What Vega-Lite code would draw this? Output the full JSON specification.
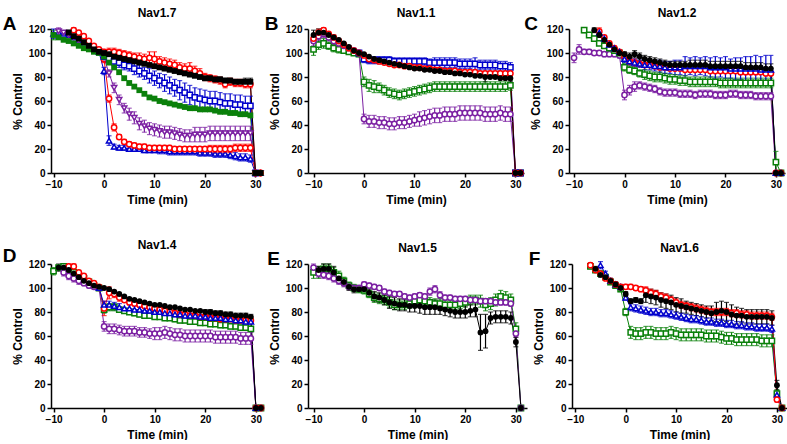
{
"$schema":"https://vega.github.io/schema/vega-lite/v6.json",
"background":"white",
"padding":{"left":2,"top":6,"right":0,"bottom":0},
"autosize":{"type":"pad"},
"config":{
"view":{"stroke":null},
"title":{"font":"Liberation Sans","fontSize":12,"fontWeight":"bold","color":"black","offset":-5},
"axis":{"grid":false,"domainColor":"black","domainWidth":1.5,"tickColor":"black","tickWidth":1.5,"tickSize":4,"labelFont":"Liberation Sans","labelFontSize":10,"labelFontWeight":"bold","labelColor":"black","labelPadding":2,"labelFlush":false,"titleFont":"Liberation Sans","titleFontSize":12,"titleFontWeight":"bold","titleColor":"black","titlePadding":3},
"axisX":{"titlePadding":5},
"axisY":{"titlePadding":4}
},
"datasets":{
"A":[
{"s":"bt","t":-10,"y":116,"e":4},{"s":"bt","t":-9,"y":117},{"s":"bt","t":-8,"y":116},{"s":"bt","t":-7,"y":115},{"s":"bt","t":-6,"y":113},{"s":"bt","t":-5,"y":110},{"s":"bt","t":-4,"y":108},{"s":"bt","t":-3,"y":106},{"s":"bt","t":-2,"y":104},{"s":"bt","t":-1,"y":101},{"s":"bt","t":0,"y":85,"e":3},{"s":"bt","t":1,"y":27,"e":4},{"s":"bt","t":2,"y":22,"e":2},{"s":"bt","t":3,"y":21,"e":2},{"s":"bt","t":4,"y":21,"e":2},{"s":"bt","t":5,"y":20,"e":2},{"s":"bt","t":6,"y":20,"e":2},{"s":"bt","t":7,"y":20,"e":2},{"s":"bt","t":8,"y":19,"e":2},{"s":"bt","t":9,"y":19,"e":2},{"s":"bt","t":10,"y":19,"e":2},{"s":"bt","t":11,"y":19,"e":3},{"s":"bt","t":12,"y":19,"e":3},{"s":"bt","t":13,"y":18,"e":3},{"s":"bt","t":14,"y":18,"e":3},{"s":"bt","t":15,"y":18,"e":3},{"s":"bt","t":16,"y":18,"e":3},{"s":"bt","t":17,"y":18,"e":3},{"s":"bt","t":18,"y":18,"e":3},{"s":"bt","t":19,"y":17,"e":3},{"s":"bt","t":20,"y":17,"e":3},{"s":"bt","t":21,"y":17,"e":3},{"s":"bt","t":22,"y":16,"e":3},{"s":"bt","t":23,"y":16,"e":3},{"s":"bt","t":24,"y":16,"e":3},{"s":"bt","t":25,"y":15,"e":3},{"s":"bt","t":26,"y":14,"e":3},{"s":"bt","t":27,"y":13,"e":3},{"s":"bt","t":28,"y":13,"e":3},{"s":"bt","t":29,"y":12,"e":3},{"s":"bt","t":30,"y":0},{"s":"bt","t":31,"y":0},
{"s":"r2","t":-1,"y":101},{"s":"r2","t":0,"y":95,"e":3},{"s":"r2","t":1,"y":62,"e":3},{"s":"r2","t":2,"y":38,"e":3},{"s":"r2","t":3,"y":30,"e":2},{"s":"r2","t":4,"y":26,"e":2},{"s":"r2","t":5,"y":24,"e":2},{"s":"r2","t":6,"y":23,"e":2},{"s":"r2","t":7,"y":22,"e":2},{"s":"r2","t":8,"y":22,"e":2},{"s":"r2","t":9,"y":21,"e":2},{"s":"r2","t":10,"y":21,"e":2},{"s":"r2","t":11,"y":21,"e":2},{"s":"r2","t":12,"y":21,"e":2},{"s":"r2","t":13,"y":21,"e":2},{"s":"r2","t":14,"y":20,"e":2},{"s":"r2","t":15,"y":20,"e":2},{"s":"r2","t":16,"y":20,"e":2},{"s":"r2","t":17,"y":20,"e":2},{"s":"r2","t":18,"y":20,"e":2},{"s":"r2","t":19,"y":20,"e":2},{"s":"r2","t":20,"y":20,"e":2},{"s":"r2","t":21,"y":20,"e":3},{"s":"r2","t":22,"y":20,"e":3},{"s":"r2","t":23,"y":20,"e":3},{"s":"r2","t":24,"y":20,"e":3},{"s":"r2","t":25,"y":20,"e":3},{"s":"r2","t":26,"y":21,"e":3},{"s":"r2","t":27,"y":21,"e":3},{"s":"r2","t":28,"y":21,"e":3},{"s":"r2","t":29,"y":21,"e":3},{"s":"r2","t":30,"y":0},{"s":"r2","t":31,"y":0},
{"s":"pt","t":-9,"y":118,"e":3},{"s":"pt","t":-8,"y":117},{"s":"pt","t":-7,"y":115},{"s":"pt","t":-6,"y":113},{"s":"pt","t":-5,"y":110},{"s":"pt","t":-4,"y":108},{"s":"pt","t":-3,"y":105},{"s":"pt","t":-2,"y":103},{"s":"pt","t":-1,"y":101},{"s":"pt","t":0,"y":96,"e":2},{"s":"pt","t":1,"y":83,"e":3},{"s":"pt","t":2,"y":71,"e":4},{"s":"pt","t":3,"y":61,"e":4},{"s":"pt","t":4,"y":54,"e":4},{"s":"pt","t":5,"y":49,"e":5},{"s":"pt","t":6,"y":46,"e":5},{"s":"pt","t":7,"y":41,"e":5},{"s":"pt","t":8,"y":39,"e":5},{"s":"pt","t":9,"y":37,"e":5},{"s":"pt","t":10,"y":36,"e":5},{"s":"pt","t":11,"y":35,"e":5},{"s":"pt","t":12,"y":34,"e":5},{"s":"pt","t":13,"y":34,"e":5},{"s":"pt","t":14,"y":33,"e":5},{"s":"pt","t":15,"y":32,"e":5},{"s":"pt","t":16,"y":31,"e":5},{"s":"pt","t":17,"y":31,"e":5},{"s":"pt","t":18,"y":32,"e":6},{"s":"pt","t":19,"y":32,"e":6},{"s":"pt","t":20,"y":32,"e":6},{"s":"pt","t":21,"y":33,"e":6},{"s":"pt","t":22,"y":33,"e":6},{"s":"pt","t":23,"y":33,"e":6},{"s":"pt","t":24,"y":33,"e":6},{"s":"pt","t":25,"y":33,"e":6},{"s":"pt","t":26,"y":33,"e":6},{"s":"pt","t":27,"y":33,"e":6},{"s":"pt","t":28,"y":33,"e":6},{"s":"pt","t":29,"y":33,"e":6},{"s":"pt","t":30,"y":0},{"s":"pt","t":31,"y":0},
{"s":"gf","t":-10,"y":115,"e":4},{"s":"gf","t":-9,"y":113},{"s":"gf","t":-8,"y":111},{"s":"gf","t":-7,"y":110},{"s":"gf","t":-6,"y":108},{"s":"gf","t":-5,"y":106},{"s":"gf","t":-4,"y":104},{"s":"gf","t":-3,"y":103},{"s":"gf","t":-2,"y":101},{"s":"gf","t":-1,"y":100},{"s":"gf","t":0,"y":97},{"s":"gf","t":1,"y":92},{"s":"gf","t":2,"y":88},{"s":"gf","t":3,"y":84},{"s":"gf","t":4,"y":79},{"s":"gf","t":5,"y":75},{"s":"gf","t":6,"y":72},{"s":"gf","t":7,"y":69},{"s":"gf","t":8,"y":66},{"s":"gf","t":9,"y":63},{"s":"gf","t":10,"y":62},{"s":"gf","t":11,"y":60},{"s":"gf","t":12,"y":59},{"s":"gf","t":13,"y":58},{"s":"gf","t":14,"y":57},{"s":"gf","t":15,"y":56},{"s":"gf","t":16,"y":55},{"s":"gf","t":17,"y":54},{"s":"gf","t":18,"y":54},{"s":"gf","t":19,"y":53},{"s":"gf","t":20,"y":53},{"s":"gf","t":21,"y":53},{"s":"gf","t":22,"y":52},{"s":"gf","t":23,"y":51},{"s":"gf","t":24,"y":51},{"s":"gf","t":25,"y":50},{"s":"gf","t":26,"y":50},{"s":"gf","t":27,"y":49},{"s":"gf","t":28,"y":49},{"s":"gf","t":29,"y":48},{"s":"gf","t":30,"y":0},{"s":"gf","t":31,"y":0},
{"s":"bs","t":-1,"y":101},{"s":"bs","t":0,"y":97,"e":2},{"s":"bs","t":1,"y":95,"e":3},{"s":"bs","t":2,"y":93,"e":3},{"s":"bs","t":3,"y":92,"e":4},{"s":"bs","t":4,"y":90,"e":4},{"s":"bs","t":5,"y":89,"e":4},{"s":"bs","t":6,"y":87,"e":5},{"s":"bs","t":7,"y":85,"e":5},{"s":"bs","t":8,"y":83,"e":5},{"s":"bs","t":9,"y":81,"e":6},{"s":"bs","t":10,"y":79,"e":6},{"s":"bs","t":11,"y":77,"e":6},{"s":"bs","t":12,"y":75,"e":7},{"s":"bs","t":13,"y":73,"e":7},{"s":"bs","t":14,"y":71,"e":7},{"s":"bs","t":15,"y":69,"e":8},{"s":"bs","t":16,"y":67,"e":8},{"s":"bs","t":17,"y":65,"e":8},{"s":"bs","t":18,"y":63,"e":8},{"s":"bs","t":19,"y":62,"e":8},{"s":"bs","t":20,"y":61,"e":8},{"s":"bs","t":21,"y":60,"e":8},{"s":"bs","t":22,"y":60,"e":8},{"s":"bs","t":23,"y":59,"e":8},{"s":"bs","t":24,"y":58,"e":8},{"s":"bs","t":25,"y":58,"e":8},{"s":"bs","t":26,"y":57,"e":8},{"s":"bs","t":27,"y":57,"e":8},{"s":"bs","t":28,"y":56,"e":8},{"s":"bs","t":29,"y":56,"e":8},{"s":"bs","t":30,"y":0},
{"s":"r","t":-6,"y":119,"e":2},{"s":"r","t":-5,"y":117},{"s":"r","t":-4,"y":114},{"s":"r","t":-3,"y":110},{"s":"r","t":-2,"y":106},{"s":"r","t":-1,"y":103},{"s":"r","t":0,"y":101,"e":2},{"s":"r","t":1,"y":101,"e":3},{"s":"r","t":2,"y":101,"e":3},{"s":"r","t":3,"y":100,"e":3},{"s":"r","t":4,"y":99,"e":3},{"s":"r","t":5,"y":98,"e":3},{"s":"r","t":6,"y":97,"e":3},{"s":"r","t":7,"y":96,"e":4},{"s":"r","t":8,"y":95,"e":4},{"s":"r","t":9,"y":96,"e":5},{"s":"r","t":10,"y":95,"e":6},{"s":"r","t":11,"y":93,"e":4},{"s":"r","t":12,"y":92,"e":4},{"s":"r","t":13,"y":91,"e":4},{"s":"r","t":14,"y":90,"e":4},{"s":"r","t":15,"y":88,"e":4},{"s":"r","t":16,"y":87,"e":4},{"s":"r","t":17,"y":87,"e":5},{"s":"r","t":18,"y":85,"e":4},{"s":"r","t":19,"y":83,"e":4},{"s":"r","t":20,"y":80,"e":3},{"s":"r","t":21,"y":79,"e":3},{"s":"r","t":22,"y":78,"e":3},{"s":"r","t":23,"y":77,"e":3},{"s":"r","t":24,"y":74,"e":3},{"s":"r","t":25,"y":76,"e":3},{"s":"r","t":26,"y":75,"e":3},{"s":"r","t":27,"y":75,"e":3},{"s":"r","t":28,"y":74,"e":3},{"s":"r","t":29,"y":74,"e":3},{"s":"r","t":30,"y":0},{"s":"r","t":31,"y":0},
{"s":"ks","t":-7,"y":117,"e":2},{"s":"ks","t":-6,"y":114},{"s":"ks","t":-5,"y":112},{"s":"ks","t":-4,"y":109},{"s":"ks","t":-3,"y":106},{"s":"ks","t":-2,"y":103},{"s":"ks","t":-1,"y":101},{"s":"ks","t":0,"y":100},{"s":"ks","t":1,"y":99},{"s":"ks","t":2,"y":97},{"s":"ks","t":3,"y":96},{"s":"ks","t":4,"y":95},{"s":"ks","t":5,"y":94},{"s":"ks","t":6,"y":93},{"s":"ks","t":7,"y":92},{"s":"ks","t":8,"y":91},{"s":"ks","t":9,"y":90},{"s":"ks","t":10,"y":89},{"s":"ks","t":11,"y":88},{"s":"ks","t":12,"y":87},{"s":"ks","t":13,"y":86},{"s":"ks","t":14,"y":85},{"s":"ks","t":15,"y":84},{"s":"ks","t":16,"y":83},{"s":"ks","t":17,"y":82},{"s":"ks","t":18,"y":81},{"s":"ks","t":19,"y":80},{"s":"ks","t":20,"y":79,"e":2},{"s":"ks","t":21,"y":79,"e":2},{"s":"ks","t":22,"y":78,"e":2},{"s":"ks","t":23,"y":78,"e":2},{"s":"ks","t":24,"y":77,"e":2},{"s":"ks","t":25,"y":77,"e":2},{"s":"ks","t":26,"y":76,"e":2},{"s":"ks","t":27,"y":76,"e":2},{"s":"ks","t":28,"y":76,"e":3},{"s":"ks","t":29,"y":76,"e":3},{"s":"ks","t":30,"y":0},{"s":"ks","t":31,"y":0}
],
"B":[
{"s":"g","t":-10,"y":103,"e":5},{"s":"g","t":-9,"y":107,"e":4},{"s":"g","t":-8,"y":108,"e":4},{"s":"g","t":-7,"y":106,"e":3},{"s":"g","t":-6,"y":104,"e":3},{"s":"g","t":-5,"y":103,"e":3},{"s":"g","t":-4,"y":102,"e":2},{"s":"g","t":-3,"y":101,"e":2},{"s":"g","t":-2,"y":100,"e":2},{"s":"g","t":-1,"y":99,"e":2},{"s":"g","t":0,"y":76,"e":4},{"s":"g","t":1,"y":73,"e":5},{"s":"g","t":2,"y":72,"e":5},{"s":"g","t":3,"y":71,"e":4},{"s":"g","t":4,"y":69,"e":4},{"s":"g","t":5,"y":67,"e":4},{"s":"g","t":6,"y":66,"e":4},{"s":"g","t":7,"y":65,"e":4},{"s":"g","t":8,"y":66,"e":4},{"s":"g","t":9,"y":67,"e":4},{"s":"g","t":10,"y":68,"e":4},{"s":"g","t":11,"y":69,"e":4},{"s":"g","t":12,"y":70,"e":4},{"s":"g","t":13,"y":71,"e":4},{"s":"g","t":14,"y":72,"e":4},{"s":"g","t":15,"y":72,"e":4},{"s":"g","t":16,"y":72,"e":4},{"s":"g","t":17,"y":72,"e":4},{"s":"g","t":18,"y":72,"e":4},{"s":"g","t":19,"y":72,"e":4},{"s":"g","t":20,"y":72,"e":4},{"s":"g","t":21,"y":72,"e":4},{"s":"g","t":22,"y":72,"e":4},{"s":"g","t":23,"y":72,"e":4},{"s":"g","t":24,"y":72,"e":4},{"s":"g","t":25,"y":72,"e":4},{"s":"g","t":26,"y":72,"e":4},{"s":"g","t":27,"y":72,"e":4},{"s":"g","t":28,"y":72,"e":4},{"s":"g","t":29,"y":73,"e":4},{"s":"g","t":30,"y":0},{"s":"g","t":31,"y":0},
{"s":"p","t":-10,"y":110,"e":4},{"s":"p","t":-9,"y":114,"e":4},{"s":"p","t":-8,"y":116,"e":3},{"s":"p","t":-7,"y":113,"e":3},{"s":"p","t":-6,"y":110,"e":3},{"s":"p","t":-5,"y":108,"e":3},{"s":"p","t":-4,"y":106,"e":2},{"s":"p","t":-3,"y":104,"e":2},{"s":"p","t":-2,"y":102,"e":2},{"s":"p","t":-1,"y":100,"e":2},{"s":"p","t":0,"y":45,"e":4},{"s":"p","t":1,"y":43,"e":5},{"s":"p","t":2,"y":43,"e":5},{"s":"p","t":3,"y":42,"e":5},{"s":"p","t":4,"y":42,"e":5},{"s":"p","t":5,"y":41,"e":5},{"s":"p","t":6,"y":41,"e":5},{"s":"p","t":7,"y":42,"e":5},{"s":"p","t":8,"y":42,"e":5},{"s":"p","t":9,"y":43,"e":5},{"s":"p","t":10,"y":44,"e":5},{"s":"p","t":11,"y":45,"e":6},{"s":"p","t":12,"y":46,"e":6},{"s":"p","t":13,"y":47,"e":6},{"s":"p","t":14,"y":48,"e":6},{"s":"p","t":15,"y":48,"e":6},{"s":"p","t":16,"y":49,"e":6},{"s":"p","t":17,"y":49,"e":6},{"s":"p","t":18,"y":49,"e":6},{"s":"p","t":19,"y":50,"e":6},{"s":"p","t":20,"y":50,"e":6},{"s":"p","t":21,"y":50,"e":6},{"s":"p","t":22,"y":50,"e":6},{"s":"p","t":23,"y":50,"e":6},{"s":"p","t":24,"y":49,"e":6},{"s":"p","t":25,"y":49,"e":6},{"s":"p","t":26,"y":49,"e":6},{"s":"p","t":27,"y":50,"e":6},{"s":"p","t":28,"y":49,"e":6},{"s":"p","t":29,"y":49,"e":6},{"s":"p","t":30,"y":0},{"s":"p","t":31,"y":0},
{"s":"bs","t":-1,"y":100},{"s":"bs","t":0,"y":95,"e":3},{"s":"bs","t":1,"y":94,"e":3},{"s":"bs","t":2,"y":94,"e":3},{"s":"bs","t":3,"y":94,"e":3},{"s":"bs","t":4,"y":94,"e":3},{"s":"bs","t":5,"y":94,"e":3},{"s":"bs","t":6,"y":93,"e":3},{"s":"bs","t":7,"y":93,"e":3},{"s":"bs","t":8,"y":93,"e":3},{"s":"bs","t":9,"y":93,"e":3},{"s":"bs","t":10,"y":93,"e":3},{"s":"bs","t":11,"y":93,"e":3},{"s":"bs","t":12,"y":93,"e":3},{"s":"bs","t":13,"y":92,"e":3},{"s":"bs","t":14,"y":92,"e":4},{"s":"bs","t":15,"y":92,"e":4},{"s":"bs","t":16,"y":92,"e":4},{"s":"bs","t":17,"y":92,"e":4},{"s":"bs","t":18,"y":92,"e":4},{"s":"bs","t":19,"y":91,"e":4},{"s":"bs","t":20,"y":91,"e":4},{"s":"bs","t":21,"y":91,"e":4},{"s":"bs","t":22,"y":91,"e":5},{"s":"bs","t":23,"y":90,"e":4},{"s":"bs","t":24,"y":90,"e":4},{"s":"bs","t":25,"y":90,"e":4},{"s":"bs","t":26,"y":90,"e":4},{"s":"bs","t":27,"y":89,"e":4},{"s":"bs","t":28,"y":89,"e":4},{"s":"bs","t":29,"y":88,"e":4},{"s":"bs","t":30,"y":0},{"s":"bs","t":31,"y":0},
{"s":"r","t":-10,"y":112,"e":3},{"s":"r","t":-9,"y":117,"e":3},{"s":"r","t":-8,"y":119,"e":2},{"s":"r","t":-7,"y":116},{"s":"r","t":-6,"y":113},{"s":"r","t":-5,"y":110},{"s":"r","t":-4,"y":107},{"s":"r","t":-3,"y":104},{"s":"r","t":-2,"y":102},{"s":"r","t":-1,"y":100},{"s":"r","t":0,"y":98},{"s":"r","t":1,"y":95},{"s":"r","t":2,"y":94},{"s":"r","t":3,"y":93},{"s":"r","t":4,"y":92},{"s":"r","t":5,"y":91},{"s":"r","t":6,"y":90},{"s":"r","t":7,"y":90},{"s":"r","t":8,"y":89},{"s":"r","t":9,"y":89},{"s":"r","t":10,"y":88},{"s":"r","t":11,"y":88},{"s":"r","t":12,"y":87},{"s":"r","t":13,"y":87},{"s":"r","t":14,"y":86},{"s":"r","t":15,"y":86},{"s":"r","t":16,"y":85},{"s":"r","t":17,"y":85},{"s":"r","t":18,"y":85},{"s":"r","t":19,"y":84},{"s":"r","t":20,"y":84},{"s":"r","t":21,"y":84},{"s":"r","t":22,"y":84},{"s":"r","t":23,"y":83},{"s":"r","t":24,"y":83},{"s":"r","t":25,"y":83},{"s":"r","t":26,"y":83},{"s":"r","t":27,"y":83},{"s":"r","t":28,"y":83},{"s":"r","t":29,"y":83},{"s":"r","t":30,"y":0},{"s":"r","t":31,"y":0},
{"s":"k","t":-10,"y":115,"e":4},{"s":"k","t":-9,"y":117,"e":3},{"s":"k","t":-8,"y":117,"e":3},{"s":"k","t":-7,"y":115,"e":2},{"s":"k","t":-6,"y":113,"e":2},{"s":"k","t":-5,"y":111},{"s":"k","t":-4,"y":108},{"s":"k","t":-3,"y":105},{"s":"k","t":-2,"y":102},{"s":"k","t":-1,"y":100},{"s":"k","t":0,"y":99},{"s":"k","t":1,"y":97},{"s":"k","t":2,"y":95},{"s":"k","t":3,"y":94},{"s":"k","t":4,"y":93},{"s":"k","t":5,"y":92},{"s":"k","t":6,"y":91},{"s":"k","t":7,"y":90},{"s":"k","t":8,"y":89},{"s":"k","t":9,"y":88},{"s":"k","t":10,"y":87},{"s":"k","t":11,"y":87},{"s":"k","t":12,"y":86},{"s":"k","t":13,"y":86},{"s":"k","t":14,"y":85},{"s":"k","t":15,"y":85},{"s":"k","t":16,"y":84},{"s":"k","t":17,"y":84},{"s":"k","t":18,"y":83},{"s":"k","t":19,"y":83},{"s":"k","t":20,"y":82},{"s":"k","t":21,"y":82},{"s":"k","t":22,"y":81},{"s":"k","t":23,"y":81},{"s":"k","t":24,"y":80,"e":4},{"s":"k","t":25,"y":80},{"s":"k","t":26,"y":80},{"s":"k","t":27,"y":79},{"s":"k","t":28,"y":79},{"s":"k","t":29,"y":79,"e":3},{"s":"k","t":30,"y":0},{"s":"k","t":31,"y":0}
],
"C":[
{"s":"p","t":-10,"y":96,"e":4},{"s":"p","t":-9,"y":103,"e":4},{"s":"p","t":-8,"y":101,"e":2},{"s":"p","t":-7,"y":101,"e":2},{"s":"p","t":-6,"y":100,"e":2},{"s":"p","t":-5,"y":100,"e":2},{"s":"p","t":-4,"y":99,"e":2},{"s":"p","t":-3,"y":99,"e":2},{"s":"p","t":-2,"y":99,"e":2},{"s":"p","t":-1,"y":98,"e":2},{"s":"p","t":0,"y":65,"e":4},{"s":"p","t":1,"y":69,"e":4},{"s":"p","t":2,"y":72,"e":4},{"s":"p","t":3,"y":73,"e":3},{"s":"p","t":4,"y":72,"e":3},{"s":"p","t":5,"y":71,"e":3},{"s":"p","t":6,"y":70,"e":3},{"s":"p","t":7,"y":68,"e":3},{"s":"p","t":8,"y":67,"e":3},{"s":"p","t":9,"y":67,"e":3},{"s":"p","t":10,"y":67,"e":3},{"s":"p","t":11,"y":66,"e":3},{"s":"p","t":12,"y":66,"e":3},{"s":"p","t":13,"y":66,"e":3},{"s":"p","t":14,"y":65,"e":3},{"s":"p","t":15,"y":66,"e":3},{"s":"p","t":16,"y":66,"e":3},{"s":"p","t":17,"y":66,"e":3},{"s":"p","t":18,"y":65,"e":3},{"s":"p","t":19,"y":65,"e":3},{"s":"p","t":20,"y":65,"e":3},{"s":"p","t":21,"y":66,"e":3},{"s":"p","t":22,"y":66,"e":3},{"s":"p","t":23,"y":65,"e":3},{"s":"p","t":24,"y":65,"e":3},{"s":"p","t":25,"y":65,"e":3},{"s":"p","t":26,"y":64,"e":3},{"s":"p","t":27,"y":64,"e":3},{"s":"p","t":28,"y":64,"e":3},{"s":"p","t":29,"y":64,"e":3},{"s":"p","t":30,"y":0},{"s":"p","t":31,"y":0},
{"s":"g","t":-8,"y":119,"e":2},{"s":"g","t":-7,"y":115,"e":2},{"s":"g","t":-6,"y":112,"e":2},{"s":"g","t":-5,"y":108},{"s":"g","t":-4,"y":106},{"s":"g","t":-3,"y":104},{"s":"g","t":-2,"y":102},{"s":"g","t":-1,"y":100},{"s":"g","t":0,"y":88,"e":3},{"s":"g","t":1,"y":86,"e":3},{"s":"g","t":2,"y":85,"e":3},{"s":"g","t":3,"y":83,"e":3},{"s":"g","t":4,"y":82,"e":4},{"s":"g","t":5,"y":81,"e":4},{"s":"g","t":6,"y":80,"e":4},{"s":"g","t":7,"y":80,"e":4},{"s":"g","t":8,"y":79,"e":4},{"s":"g","t":9,"y":78,"e":4},{"s":"g","t":10,"y":78,"e":4},{"s":"g","t":11,"y":77,"e":4},{"s":"g","t":12,"y":77,"e":4},{"s":"g","t":13,"y":76,"e":4},{"s":"g","t":14,"y":76,"e":4},{"s":"g","t":15,"y":76,"e":4},{"s":"g","t":16,"y":76,"e":4},{"s":"g","t":17,"y":76,"e":4},{"s":"g","t":18,"y":76,"e":4},{"s":"g","t":19,"y":75,"e":4},{"s":"g","t":20,"y":75,"e":4},{"s":"g","t":21,"y":75,"e":4},{"s":"g","t":22,"y":75,"e":4},{"s":"g","t":23,"y":75,"e":4},{"s":"g","t":24,"y":75,"e":4},{"s":"g","t":25,"y":75,"e":4},{"s":"g","t":26,"y":75,"e":4},{"s":"g","t":27,"y":75,"e":4},{"s":"g","t":28,"y":75,"e":4},{"s":"g","t":29,"y":75,"e":4},{"s":"g","t":30,"y":9,"e":9},{"s":"g","t":31,"y":0},
{"s":"r","t":-5,"y":118,"e":3},{"s":"r","t":-4,"y":113},{"s":"r","t":-3,"y":108},{"s":"r","t":-2,"y":104},{"s":"r","t":-1,"y":101},{"s":"r","t":0,"y":97},{"s":"r","t":1,"y":93,"e":3},{"s":"r","t":2,"y":92,"e":3},{"s":"r","t":3,"y":91},{"s":"r","t":4,"y":90},{"s":"r","t":5,"y":90},{"s":"r","t":6,"y":89},{"s":"r","t":7,"y":88},{"s":"r","t":8,"y":88},{"s":"r","t":9,"y":87},{"s":"r","t":10,"y":87},{"s":"r","t":11,"y":87},{"s":"r","t":12,"y":86},{"s":"r","t":13,"y":86},{"s":"r","t":14,"y":86},{"s":"r","t":15,"y":86},{"s":"r","t":16,"y":86},{"s":"r","t":17,"y":85},{"s":"r","t":18,"y":85},{"s":"r","t":19,"y":85},{"s":"r","t":20,"y":85},{"s":"r","t":21,"y":85},{"s":"r","t":22,"y":85},{"s":"r","t":23,"y":84},{"s":"r","t":24,"y":84},{"s":"r","t":25,"y":84},{"s":"r","t":26,"y":84},{"s":"r","t":27,"y":84},{"s":"r","t":28,"y":83},{"s":"r","t":29,"y":83},{"s":"r","t":30,"y":0},{"s":"r","t":31,"y":0},
{"s":"bt","t":-5,"y":117},{"s":"bt","t":-4,"y":112},{"s":"bt","t":-3,"y":107},{"s":"bt","t":-2,"y":104},{"s":"bt","t":-1,"y":101},{"s":"bt","t":0,"y":95,"e":3},{"s":"bt","t":1,"y":93,"e":3},{"s":"bt","t":2,"y":92,"e":3},{"s":"bt","t":3,"y":91,"e":3},{"s":"bt","t":4,"y":90,"e":4},{"s":"bt","t":5,"y":90,"e":4},{"s":"bt","t":6,"y":89,"e":4},{"s":"bt","t":7,"y":89,"e":5},{"s":"bt","t":8,"y":88,"e":5},{"s":"bt","t":9,"y":88,"e":5},{"s":"bt","t":10,"y":88,"e":6},{"s":"bt","t":11,"y":88,"e":6},{"s":"bt","t":12,"y":89,"e":8},{"s":"bt","t":13,"y":89,"e":7},{"s":"bt","t":14,"y":89,"e":8},{"s":"bt","t":15,"y":89,"e":7},{"s":"bt","t":16,"y":89,"e":8},{"s":"bt","t":17,"y":88,"e":8},{"s":"bt","t":18,"y":88,"e":9},{"s":"bt","t":19,"y":88,"e":8},{"s":"bt","t":20,"y":88,"e":9},{"s":"bt","t":21,"y":87,"e":8},{"s":"bt","t":22,"y":87,"e":9},{"s":"bt","t":23,"y":87,"e":9},{"s":"bt","t":24,"y":87,"e":10},{"s":"bt","t":25,"y":87,"e":10},{"s":"bt","t":26,"y":87,"e":11},{"s":"bt","t":27,"y":86,"e":11},{"s":"bt","t":28,"y":86,"e":12},{"s":"bt","t":29,"y":86,"e":12},{"s":"bt","t":30,"y":0},{"s":"bt","t":31,"y":0},
{"s":"k","t":-6,"y":119,"e":2},{"s":"k","t":-5,"y":115,"e":2},{"s":"k","t":-4,"y":111,"e":2},{"s":"k","t":-3,"y":107,"e":2},{"s":"k","t":-2,"y":103,"e":2},{"s":"k","t":-1,"y":100},{"s":"k","t":0,"y":99,"e":2},{"s":"k","t":1,"y":97,"e":3},{"s":"k","t":2,"y":99,"e":3},{"s":"k","t":3,"y":97,"e":3},{"s":"k","t":4,"y":95,"e":3},{"s":"k","t":5,"y":94,"e":3},{"s":"k","t":6,"y":93,"e":3},{"s":"k","t":7,"y":92,"e":3},{"s":"k","t":8,"y":91,"e":3},{"s":"k","t":9,"y":90,"e":3},{"s":"k","t":10,"y":90,"e":3},{"s":"k","t":11,"y":90,"e":3},{"s":"k","t":12,"y":90,"e":3},{"s":"k","t":13,"y":90,"e":4},{"s":"k","t":14,"y":90,"e":4},{"s":"k","t":15,"y":90,"e":4},{"s":"k","t":16,"y":90,"e":4},{"s":"k","t":17,"y":89,"e":4},{"s":"k","t":18,"y":89,"e":4},{"s":"k","t":19,"y":89,"e":4},{"s":"k","t":20,"y":89,"e":4},{"s":"k","t":21,"y":89,"e":4},{"s":"k","t":22,"y":89,"e":4},{"s":"k","t":23,"y":89,"e":4},{"s":"k","t":24,"y":88,"e":4},{"s":"k","t":25,"y":88,"e":4},{"s":"k","t":26,"y":88,"e":4},{"s":"k","t":27,"y":88,"e":4},{"s":"k","t":28,"y":87,"e":4},{"s":"k","t":29,"y":87,"e":4},{"s":"k","t":30,"y":0},{"s":"k","t":31,"y":0}
],
"D":[
{"s":"g","t":-10,"y":114,"e":3},{"s":"g","t":-9,"y":117,"e":2},{"s":"g","t":-8,"y":118,"e":2},{"s":"g","t":-7,"y":115},{"s":"g","t":-6,"y":113},{"s":"g","t":-5,"y":110},{"s":"g","t":-4,"y":108},{"s":"g","t":-3,"y":105},{"s":"g","t":-2,"y":102},{"s":"g","t":-1,"y":100},{"s":"g","t":0,"y":82,"e":3},{"s":"g","t":1,"y":84,"e":3},{"s":"g","t":2,"y":84,"e":3},{"s":"g","t":3,"y":82,"e":2},{"s":"g","t":4,"y":81,"e":2},{"s":"g","t":5,"y":80,"e":2},{"s":"g","t":6,"y":79,"e":2},{"s":"g","t":7,"y":78,"e":2},{"s":"g","t":8,"y":77,"e":2},{"s":"g","t":9,"y":77,"e":2},{"s":"g","t":10,"y":76,"e":2},{"s":"g","t":11,"y":76,"e":2},{"s":"g","t":12,"y":75,"e":2},{"s":"g","t":13,"y":75,"e":2},{"s":"g","t":14,"y":74,"e":2},{"s":"g","t":15,"y":73,"e":2},{"s":"g","t":16,"y":73,"e":2},{"s":"g","t":17,"y":72,"e":2},{"s":"g","t":18,"y":72,"e":2},{"s":"g","t":19,"y":71,"e":2},{"s":"g","t":20,"y":71,"e":2},{"s":"g","t":21,"y":70,"e":2},{"s":"g","t":22,"y":70,"e":2},{"s":"g","t":23,"y":69,"e":2},{"s":"g","t":24,"y":69,"e":2},{"s":"g","t":25,"y":68,"e":2},{"s":"g","t":26,"y":68,"e":2},{"s":"g","t":27,"y":67,"e":2},{"s":"g","t":28,"y":67,"e":2},{"s":"g","t":29,"y":66,"e":2},{"s":"g","t":30,"y":0},{"s":"g","t":31,"y":0},
{"s":"p","t":-8,"y":113,"e":3},{"s":"p","t":-7,"y":110,"e":3},{"s":"p","t":-6,"y":108,"e":3},{"s":"p","t":-5,"y":106,"e":3},{"s":"p","t":-4,"y":104,"e":2},{"s":"p","t":-3,"y":102,"e":2},{"s":"p","t":-2,"y":101,"e":2},{"s":"p","t":-1,"y":100,"e":2},{"s":"p","t":0,"y":68,"e":4},{"s":"p","t":1,"y":66,"e":4},{"s":"p","t":2,"y":66,"e":4},{"s":"p","t":3,"y":65,"e":4},{"s":"p","t":4,"y":64,"e":4},{"s":"p","t":5,"y":64,"e":4},{"s":"p","t":6,"y":64,"e":4},{"s":"p","t":7,"y":63,"e":4},{"s":"p","t":8,"y":63,"e":4},{"s":"p","t":9,"y":62,"e":4},{"s":"p","t":10,"y":62,"e":5},{"s":"p","t":11,"y":62,"e":5},{"s":"p","t":12,"y":63,"e":5},{"s":"p","t":13,"y":62,"e":5},{"s":"p","t":14,"y":61,"e":5},{"s":"p","t":15,"y":61,"e":5},{"s":"p","t":16,"y":60,"e":5},{"s":"p","t":17,"y":60,"e":5},{"s":"p","t":18,"y":60,"e":5},{"s":"p","t":19,"y":60,"e":5},{"s":"p","t":20,"y":60,"e":5},{"s":"p","t":21,"y":60,"e":5},{"s":"p","t":22,"y":59,"e":5},{"s":"p","t":23,"y":59,"e":5},{"s":"p","t":24,"y":59,"e":5},{"s":"p","t":25,"y":59,"e":5},{"s":"p","t":26,"y":59,"e":5},{"s":"p","t":27,"y":58,"e":5},{"s":"p","t":28,"y":58,"e":5},{"s":"p","t":29,"y":58,"e":5},{"s":"p","t":30,"y":0},{"s":"p","t":31,"y":0},
{"s":"r","t":-7,"y":118,"e":2},{"s":"r","t":-6,"y":118,"e":2},{"s":"r","t":-5,"y":113},{"s":"r","t":-4,"y":110},{"s":"r","t":-3,"y":106},{"s":"r","t":-2,"y":104},{"s":"r","t":-1,"y":101},{"s":"r","t":0,"y":83,"e":6},{"s":"r","t":1,"y":96,"e":5},{"s":"r","t":2,"y":95,"e":3},{"s":"r","t":3,"y":92,"e":3},{"s":"r","t":4,"y":90,"e":2},{"s":"r","t":5,"y":88,"e":2},{"s":"r","t":6,"y":87,"e":2},{"s":"r","t":7,"y":86,"e":2},{"s":"r","t":8,"y":85,"e":2},{"s":"r","t":9,"y":84,"e":2},{"s":"r","t":10,"y":83,"e":2},{"s":"r","t":11,"y":82,"e":2},{"s":"r","t":12,"y":81,"e":2},{"s":"r","t":13,"y":80,"e":2},{"s":"r","t":14,"y":79,"e":2},{"s":"r","t":15,"y":78,"e":2},{"s":"r","t":16,"y":78,"e":2},{"s":"r","t":17,"y":77,"e":2},{"s":"r","t":18,"y":77,"e":2},{"s":"r","t":19,"y":76,"e":2},{"s":"r","t":20,"y":76,"e":2},{"s":"r","t":21,"y":75,"e":2},{"s":"r","t":22,"y":75,"e":2},{"s":"r","t":23,"y":74,"e":2},{"s":"r","t":24,"y":74,"e":2},{"s":"r","t":25,"y":74,"e":2},{"s":"r","t":26,"y":73,"e":2},{"s":"r","t":27,"y":73,"e":2},{"s":"r","t":28,"y":73,"e":2},{"s":"r","t":29,"y":73,"e":2},{"s":"r","t":30,"y":0},{"s":"r","t":31,"y":0},
{"s":"bt","t":-1,"y":100},{"s":"bt","t":0,"y":86,"e":3},{"s":"bt","t":1,"y":86,"e":3},{"s":"bt","t":2,"y":85,"e":3},{"s":"bt","t":3,"y":84,"e":3},{"s":"bt","t":4,"y":83},{"s":"bt","t":5,"y":83},{"s":"bt","t":6,"y":82},{"s":"bt","t":7,"y":82},{"s":"bt","t":8,"y":81},{"s":"bt","t":9,"y":81},{"s":"bt","t":10,"y":80},{"s":"bt","t":11,"y":80},{"s":"bt","t":12,"y":79},{"s":"bt","t":13,"y":79},{"s":"bt","t":14,"y":78},{"s":"bt","t":15,"y":78},{"s":"bt","t":16,"y":77},{"s":"bt","t":17,"y":77},{"s":"bt","t":18,"y":77},{"s":"bt","t":19,"y":76},{"s":"bt","t":20,"y":76},{"s":"bt","t":21,"y":75},{"s":"bt","t":22,"y":75},{"s":"bt","t":23,"y":75},{"s":"bt","t":24,"y":74},{"s":"bt","t":25,"y":74},{"s":"bt","t":26,"y":73},{"s":"bt","t":27,"y":73},{"s":"bt","t":28,"y":72},{"s":"bt","t":29,"y":72},{"s":"bt","t":30,"y":0},
{"s":"k","t":-9,"y":117,"e":3},{"s":"k","t":-8,"y":117,"e":3},{"s":"k","t":-7,"y":115,"e":2},{"s":"k","t":-6,"y":112,"e":2},{"s":"k","t":-5,"y":109},{"s":"k","t":-4,"y":106},{"s":"k","t":-3,"y":104},{"s":"k","t":-2,"y":102},{"s":"k","t":-1,"y":101},{"s":"k","t":0,"y":100},{"s":"k","t":1,"y":99},{"s":"k","t":2,"y":97},{"s":"k","t":3,"y":95},{"s":"k","t":4,"y":93},{"s":"k","t":5,"y":91},{"s":"k","t":6,"y":90},{"s":"k","t":7,"y":89},{"s":"k","t":8,"y":88},{"s":"k","t":9,"y":87},{"s":"k","t":10,"y":86},{"s":"k","t":11,"y":86},{"s":"k","t":12,"y":85},{"s":"k","t":13,"y":84},{"s":"k","t":14,"y":84},{"s":"k","t":15,"y":83},{"s":"k","t":16,"y":82},{"s":"k","t":17,"y":82},{"s":"k","t":18,"y":81},{"s":"k","t":19,"y":81},{"s":"k","t":20,"y":80,"e":2},{"s":"k","t":21,"y":80,"e":2},{"s":"k","t":22,"y":79,"e":2},{"s":"k","t":23,"y":79,"e":2},{"s":"k","t":24,"y":78,"e":2},{"s":"k","t":25,"y":78,"e":2},{"s":"k","t":26,"y":77,"e":2},{"s":"k","t":27,"y":77,"e":2},{"s":"k","t":28,"y":77,"e":2},{"s":"k","t":29,"y":76,"e":2},{"s":"k","t":30,"y":0},{"s":"k","t":31,"y":0}
],
"E":[
{"s":"g","t":-10,"y":113,"e":5},{"s":"g","t":-9,"y":113,"e":5},{"s":"g","t":-8,"y":116,"e":4},{"s":"g","t":-7,"y":116,"e":4},{"s":"g","t":-6,"y":113,"e":4},{"s":"g","t":-5,"y":110,"e":4},{"s":"g","t":-4,"y":106,"e":3},{"s":"g","t":-3,"y":102,"e":3},{"s":"g","t":-2,"y":100,"e":3},{"s":"g","t":-1,"y":99,"e":3},{"s":"g","t":0,"y":98,"e":3},{"s":"g","t":1,"y":95,"e":3},{"s":"g","t":2,"y":92,"e":4},{"s":"g","t":3,"y":91,"e":4},{"s":"g","t":4,"y":90,"e":4},{"s":"g","t":5,"y":88,"e":4},{"s":"g","t":6,"y":86,"e":4},{"s":"g","t":7,"y":86,"e":4},{"s":"g","t":8,"y":86,"e":4},{"s":"g","t":9,"y":87,"e":4},{"s":"g","t":10,"y":89,"e":4},{"s":"g","t":11,"y":90,"e":4},{"s":"g","t":12,"y":89,"e":4},{"s":"g","t":13,"y":88,"e":4},{"s":"g","t":14,"y":87,"e":4},{"s":"g","t":15,"y":87,"e":4},{"s":"g","t":16,"y":86,"e":4},{"s":"g","t":17,"y":86,"e":4},{"s":"g","t":18,"y":86,"e":4},{"s":"g","t":19,"y":87,"e":4},{"s":"g","t":20,"y":88,"e":4},{"s":"g","t":21,"y":90,"e":4},{"s":"g","t":22,"y":90,"e":4},{"s":"g","t":23,"y":89,"e":5},{"s":"g","t":24,"y":86,"e":5},{"s":"g","t":25,"y":87,"e":5},{"s":"g","t":26,"y":90,"e":5},{"s":"g","t":27,"y":93,"e":5},{"s":"g","t":28,"y":92,"e":5},{"s":"g","t":29,"y":90,"e":5},{"s":"g","t":30,"y":66,"e":5},{"s":"g","t":31,"y":0},
{"s":"p","t":-10,"y":117,"e":3},{"s":"p","t":-9,"y":112,"e":3},{"s":"p","t":-8,"y":111,"e":3},{"s":"p","t":-7,"y":110,"e":3},{"s":"p","t":-6,"y":108,"e":3},{"s":"p","t":-5,"y":106,"e":3},{"s":"p","t":-4,"y":104,"e":3},{"s":"p","t":-3,"y":101,"e":2},{"s":"p","t":-2,"y":100,"e":2},{"s":"p","t":-1,"y":100,"e":2},{"s":"p","t":0,"y":103,"e":2},{"s":"p","t":1,"y":102,"e":2},{"s":"p","t":2,"y":101,"e":2},{"s":"p","t":3,"y":100,"e":2},{"s":"p","t":4,"y":97,"e":2},{"s":"p","t":5,"y":96,"e":2},{"s":"p","t":6,"y":95,"e":2},{"s":"p","t":7,"y":95,"e":2},{"s":"p","t":8,"y":93,"e":2},{"s":"p","t":9,"y":92,"e":2},{"s":"p","t":10,"y":93,"e":2},{"s":"p","t":11,"y":94,"e":2},{"s":"p","t":12,"y":93,"e":2},{"s":"p","t":13,"y":97,"e":3},{"s":"p","t":14,"y":99,"e":3},{"s":"p","t":15,"y":94,"e":3},{"s":"p","t":16,"y":92,"e":2},{"s":"p","t":17,"y":92,"e":2},{"s":"p","t":18,"y":91,"e":2},{"s":"p","t":19,"y":91,"e":2},{"s":"p","t":20,"y":91,"e":2},{"s":"p","t":21,"y":90,"e":2},{"s":"p","t":22,"y":90,"e":2},{"s":"p","t":23,"y":89,"e":2},{"s":"p","t":24,"y":89,"e":2},{"s":"p","t":25,"y":89,"e":2},{"s":"p","t":26,"y":88,"e":2},{"s":"p","t":27,"y":88,"e":2},{"s":"p","t":28,"y":88,"e":2},{"s":"p","t":29,"y":87,"e":2},{"s":"p","t":30,"y":62,"e":3},{"s":"p","t":31,"y":0},
{"s":"k","t":-9,"y":115,"e":3},{"s":"k","t":-8,"y":116,"e":4},{"s":"k","t":-7,"y":116,"e":4},{"s":"k","t":-6,"y":113,"e":5},{"s":"k","t":-5,"y":108,"e":4},{"s":"k","t":-4,"y":105,"e":3},{"s":"k","t":-3,"y":101,"e":3},{"s":"k","t":-2,"y":99,"e":3},{"s":"k","t":-1,"y":99,"e":2},{"s":"k","t":0,"y":99,"e":2},{"s":"k","t":1,"y":96,"e":3},{"s":"k","t":2,"y":93,"e":4},{"s":"k","t":3,"y":92,"e":4},{"s":"k","t":4,"y":90,"e":4},{"s":"k","t":5,"y":88,"e":5},{"s":"k","t":6,"y":87,"e":5},{"s":"k","t":7,"y":86,"e":5},{"s":"k","t":8,"y":86,"e":5},{"s":"k","t":9,"y":85,"e":5},{"s":"k","t":10,"y":85,"e":5},{"s":"k","t":11,"y":85,"e":6},{"s":"k","t":12,"y":84,"e":6},{"s":"k","t":13,"y":84,"e":6},{"s":"k","t":14,"y":84,"e":6},{"s":"k","t":15,"y":83,"e":5},{"s":"k","t":16,"y":82,"e":5},{"s":"k","t":17,"y":81,"e":5},{"s":"k","t":18,"y":80,"e":5},{"s":"k","t":19,"y":80,"e":5},{"s":"k","t":20,"y":80,"e":5},{"s":"k","t":21,"y":81,"e":5},{"s":"k","t":22,"y":82,"e":6},{"s":"k","t":23,"y":63,"e":15},{"s":"k","t":24,"y":64,"e":14},{"s":"k","t":25,"y":75,"e":5},{"s":"k","t":26,"y":76,"e":5},{"s":"k","t":27,"y":76,"e":5},{"s":"k","t":28,"y":76,"e":5},{"s":"k","t":29,"y":75,"e":5},{"s":"k","t":30,"y":55,"e":4},{"s":"k","t":31,"y":0}
],
"F":[
{"s":"g","t":-7,"y":118,"e":2},{"s":"g","t":-6,"y":115,"e":2},{"s":"g","t":-5,"y":112,"e":2},{"s":"g","t":-4,"y":109,"e":2},{"s":"g","t":-3,"y":105,"e":2},{"s":"g","t":-2,"y":102,"e":2},{"s":"g","t":-1,"y":99,"e":2},{"s":"g","t":0,"y":80,"e":3},{"s":"g","t":1,"y":63,"e":5},{"s":"g","t":2,"y":62,"e":5},{"s":"g","t":3,"y":62,"e":5},{"s":"g","t":4,"y":63,"e":5},{"s":"g","t":5,"y":63,"e":5},{"s":"g","t":6,"y":62,"e":5},{"s":"g","t":7,"y":62,"e":5},{"s":"g","t":8,"y":62,"e":5},{"s":"g","t":9,"y":63,"e":5},{"s":"g","t":10,"y":62,"e":5},{"s":"g","t":11,"y":61,"e":5},{"s":"g","t":12,"y":61,"e":5},{"s":"g","t":13,"y":61,"e":5},{"s":"g","t":14,"y":61,"e":5},{"s":"g","t":15,"y":61,"e":5},{"s":"g","t":16,"y":60,"e":5},{"s":"g","t":17,"y":60,"e":5},{"s":"g","t":18,"y":60,"e":5},{"s":"g","t":19,"y":59,"e":5},{"s":"g","t":20,"y":58,"e":5},{"s":"g","t":21,"y":58,"e":5},{"s":"g","t":22,"y":57,"e":5},{"s":"g","t":23,"y":57,"e":5},{"s":"g","t":24,"y":57,"e":5},{"s":"g","t":25,"y":57,"e":5},{"s":"g","t":26,"y":57,"e":5},{"s":"g","t":27,"y":56,"e":5},{"s":"g","t":28,"y":56,"e":5},{"s":"g","t":29,"y":56,"e":5},{"s":"g","t":30,"y":12,"e":3},{"s":"g","t":31,"y":0},
{"s":"bt","t":-5,"y":119,"e":3},{"s":"bt","t":-4,"y":112,"e":2},{"s":"bt","t":-3,"y":106,"e":2},{"s":"bt","t":-2,"y":103,"e":2},{"s":"bt","t":-1,"y":101,"e":2},{"s":"bt","t":0,"y":92,"e":2},{"s":"bt","t":1,"y":84,"e":3},{"s":"bt","t":2,"y":83,"e":3},{"s":"bt","t":3,"y":82,"e":3},{"s":"bt","t":4,"y":81,"e":3},{"s":"bt","t":5,"y":80,"e":3},{"s":"bt","t":6,"y":80,"e":3},{"s":"bt","t":7,"y":79,"e":3},{"s":"bt","t":8,"y":79,"e":3},{"s":"bt","t":9,"y":78,"e":3},{"s":"bt","t":10,"y":77,"e":3},{"s":"bt","t":11,"y":76,"e":3},{"s":"bt","t":12,"y":75,"e":3},{"s":"bt","t":13,"y":74,"e":3},{"s":"bt","t":14,"y":74,"e":3},{"s":"bt","t":15,"y":73,"e":3},{"s":"bt","t":16,"y":72,"e":3},{"s":"bt","t":17,"y":72,"e":3},{"s":"bt","t":18,"y":71,"e":3},{"s":"bt","t":19,"y":71,"e":3},{"s":"bt","t":20,"y":70,"e":3},{"s":"bt","t":21,"y":70,"e":3},{"s":"bt","t":22,"y":69,"e":3},{"s":"bt","t":23,"y":69,"e":3},{"s":"bt","t":24,"y":68,"e":3},{"s":"bt","t":25,"y":68,"e":3},{"s":"bt","t":26,"y":67,"e":3},{"s":"bt","t":27,"y":67,"e":3},{"s":"bt","t":28,"y":67,"e":3},{"s":"bt","t":29,"y":66,"e":3},{"s":"bt","t":30,"y":11,"e":2},{"s":"bt","t":31,"y":0},
{"s":"k","t":-6,"y":116,"e":2},{"s":"k","t":-5,"y":111,"e":2},{"s":"k","t":-4,"y":109,"e":2},{"s":"k","t":-3,"y":106,"e":2},{"s":"k","t":-2,"y":103,"e":2},{"s":"k","t":-1,"y":100,"e":2},{"s":"k","t":0,"y":95,"e":2},{"s":"k","t":1,"y":89,"e":2},{"s":"k","t":2,"y":90,"e":2},{"s":"k","t":3,"y":89,"e":2},{"s":"k","t":4,"y":94,"e":6},{"s":"k","t":5,"y":93,"e":6},{"s":"k","t":6,"y":92,"e":6},{"s":"k","t":7,"y":90,"e":6},{"s":"k","t":8,"y":89,"e":6},{"s":"k","t":9,"y":88,"e":6},{"s":"k","t":10,"y":86,"e":6},{"s":"k","t":11,"y":85,"e":6},{"s":"k","t":12,"y":84,"e":5},{"s":"k","t":13,"y":83,"e":5},{"s":"k","t":14,"y":82,"e":5},{"s":"k","t":15,"y":81,"e":5},{"s":"k","t":16,"y":80,"e":5},{"s":"k","t":17,"y":79,"e":6},{"s":"k","t":18,"y":80,"e":8},{"s":"k","t":19,"y":81,"e":8},{"s":"k","t":20,"y":80,"e":8},{"s":"k","t":21,"y":78,"e":8},{"s":"k","t":22,"y":77,"e":7},{"s":"k","t":23,"y":77,"e":6},{"s":"k","t":24,"y":76,"e":6},{"s":"k","t":25,"y":76,"e":6},{"s":"k","t":26,"y":76,"e":6},{"s":"k","t":27,"y":76,"e":6},{"s":"k","t":28,"y":76,"e":6},{"s":"k","t":29,"y":75,"e":6},{"s":"k","t":30,"y":19,"e":4},{"s":"k","t":31,"y":0},
{"s":"r","t":-7,"y":119,"e":2},{"s":"r","t":-6,"y":115},{"s":"r","t":-5,"y":112},{"s":"r","t":-4,"y":108},{"s":"r","t":-3,"y":106},{"s":"r","t":-2,"y":103},{"s":"r","t":-1,"y":101},{"s":"r","t":0,"y":101,"e":2},{"s":"r","t":1,"y":101,"e":2},{"s":"r","t":2,"y":100,"e":2},{"s":"r","t":3,"y":99,"e":2},{"s":"r","t":4,"y":98,"e":3},{"s":"r","t":5,"y":96,"e":3},{"s":"r","t":6,"y":95,"e":3},{"s":"r","t":7,"y":93,"e":3},{"s":"r","t":8,"y":92,"e":3},{"s":"r","t":9,"y":90,"e":3},{"s":"r","t":10,"y":88,"e":3},{"s":"r","t":11,"y":86,"e":3},{"s":"r","t":12,"y":85,"e":3},{"s":"r","t":13,"y":84,"e":3},{"s":"r","t":14,"y":83,"e":3},{"s":"r","t":15,"y":82,"e":3},{"s":"r","t":16,"y":81,"e":3},{"s":"r","t":17,"y":80,"e":3},{"s":"r","t":18,"y":80,"e":3},{"s":"r","t":19,"y":80,"e":3},{"s":"r","t":20,"y":80,"e":3},{"s":"r","t":21,"y":79,"e":3},{"s":"r","t":22,"y":79,"e":3},{"s":"r","t":23,"y":78,"e":3},{"s":"r","t":24,"y":78,"e":3},{"s":"r","t":25,"y":77,"e":3},{"s":"r","t":26,"y":77,"e":3},{"s":"r","t":27,"y":77,"e":3},{"s":"r","t":28,"y":77,"e":3},{"s":"r","t":29,"y":76,"e":3},{"s":"r","t":30,"y":7,"e":2},{"s":"r","t":31,"y":0}
]
},
"spacing":33,
"vconcat":[
{"spacing":45,"bounds":"flush","hconcat":[
{"width":212,"height":144,"title":"Nav1.7","data":{"name":"A"},
"layer":[
{"encoding":{"x":{"field":"t","type":"quantitative","scale":{"domain":[-10.5,31.5],"nice":false,"zero":false},"axis":{"values":[-10,0,10,20,30],"title":"Time (min)"}},"y":{"field":"y","type":"quantitative","scale":{"domain":[0,120]},"axis":{"values":[0,20,40,60,80,100,120],"title":"% Control"}},"color":{"field":"s","type":"nominal","scale":{"domain":["k","ks","r","r2","bt","bs","g","gf","p","pt"],"range":["#000000","#000000","#ff0000","#ff0000","#0000cc","#0000cc","#0a800a","#0a800a","#7b1fa2","#7b1fa2"]},"legend":null}},
"layer":[
{"mark":{"type":"line","strokeWidth":1}},
{"transform":[{"filter":"isValid(datum.e)"}],"mark":{"type":"errorbar","ticks":true,"thickness":1.2},"encoding":{"yError":{"field":"e"}}},
{"transform":[{"filter":"indexof(['k','ks','gf'],datum.s)<0"}],"mark":{"type":"point","filled":false,"fill":"white","opacity":1,"strokeWidth":1.5,"size":28},"encoding":{"shape":{"field":"s","type":"nominal","scale":{"domain":["k","ks","r","r2","bt","bs","g","gf","p","pt"],"range":["circle","square","circle","circle","triangle-up","square","square","square","circle","triangle-down"]},"legend":null}}},
{"transform":[{"filter":"indexof(['k','ks','gf'],datum.s)>=0"}],"mark":{"type":"point","filled":true,"opacity":1,"size":34},"encoding":{"shape":{"field":"s","type":"nominal","scale":{"domain":["k","ks","r","r2","bt","bs","g","gf","p","pt"],"range":["circle","square","circle","circle","triangle-up","square","square","square","circle","triangle-down"]},"legend":null}}}
]},
{"data":{"values":[{"L":"A"}]},"mark":{"type":"text","font":"Liberation Sans","fontSize":19,"fontWeight":"bold","baseline":"alphabetic","align":"center","color":"black"},"encoding":{"x":{"datum":-18.7,"type":"quantitative","scale":{"domain":[-10.5,31.5],"nice":false,"zero":false},"axis":{"values":[-10,0,10,20,30],"title":"Time (min)"}},"y":{"datum":119.2,"type":"quantitative","scale":{"domain":[0,120]},"axis":{"values":[0,20,40,60,80,100,120],"title":"% Control"}},"text":{"field":"L","type":"nominal"}}}
]},
{"width":216,"height":144,"title":"Nav1.1","data":{"name":"B"},
"layer":[
{"encoding":{"x":{"field":"t","type":"quantitative","scale":{"domain":[-11.1,31.7],"nice":false,"zero":false},"axis":{"values":[-10,0,10,20,30],"title":"Time (min)"}},"y":{"field":"y","type":"quantitative","scale":{"domain":[0,120]},"axis":{"values":[0,20,40,60,80,100,120],"title":"% Control"}},"color":{"field":"s","type":"nominal","scale":{"domain":["k","ks","r","r2","bt","bs","g","gf","p","pt"],"range":["#000000","#000000","#ff0000","#ff0000","#0000cc","#0000cc","#0a800a","#0a800a","#7b1fa2","#7b1fa2"]},"legend":null}},
"layer":[
{"mark":{"type":"line","strokeWidth":1}},
{"transform":[{"filter":"isValid(datum.e)"}],"mark":{"type":"errorbar","ticks":true,"thickness":1.2},"encoding":{"yError":{"field":"e"}}},
{"transform":[{"filter":"indexof(['k','ks','gf'],datum.s)<0"}],"mark":{"type":"point","filled":false,"fill":"white","opacity":1,"strokeWidth":1.5,"size":28},"encoding":{"shape":{"field":"s","type":"nominal","scale":{"domain":["k","ks","r","r2","bt","bs","g","gf","p","pt"],"range":["circle","square","circle","circle","triangle-up","square","square","square","circle","triangle-down"]},"legend":null}}},
{"transform":[{"filter":"indexof(['k','ks','gf'],datum.s)>=0"}],"mark":{"type":"point","filled":true,"opacity":1,"size":34},"encoding":{"shape":{"field":"s","type":"nominal","scale":{"domain":["k","ks","r","r2","bt","bs","g","gf","p","pt"],"range":["circle","square","circle","circle","triangle-up","square","square","square","circle","triangle-down"]},"legend":null}}}
]},
{"data":{"values":[{"L":"B"}]},"mark":{"type":"text","font":"Liberation Sans","fontSize":19,"fontWeight":"bold","baseline":"alphabetic","align":"center","color":"black"},"encoding":{"x":{"datum":-18.3,"type":"quantitative","scale":{"domain":[-11.1,31.7],"nice":false,"zero":false},"axis":{"values":[-10,0,10,20,30],"title":"Time (min)"}},"y":{"datum":119.2,"type":"quantitative","scale":{"domain":[0,120]},"axis":{"values":[0,20,40,60,80,100,120],"title":"% Control"}},"text":{"field":"L","type":"nominal"}}}
]},
{"width":216,"height":144,"title":"Nav1.2","data":{"name":"C"},
"layer":[
{"encoding":{"x":{"field":"t","type":"quantitative","scale":{"domain":[-11,31.8],"nice":false,"zero":false},"axis":{"values":[-10,0,10,20,30],"title":"Time (min)"}},"y":{"field":"y","type":"quantitative","scale":{"domain":[0,120]},"axis":{"values":[0,20,40,60,80,100,120],"title":"% Control"}},"color":{"field":"s","type":"nominal","scale":{"domain":["k","ks","r","r2","bt","bs","g","gf","p","pt"],"range":["#000000","#000000","#ff0000","#ff0000","#0000cc","#0000cc","#0a800a","#0a800a","#7b1fa2","#7b1fa2"]},"legend":null}},
"layer":[
{"mark":{"type":"line","strokeWidth":1}},
{"transform":[{"filter":"isValid(datum.e)"}],"mark":{"type":"errorbar","ticks":true,"thickness":1.2},"encoding":{"yError":{"field":"e"}}},
{"transform":[{"filter":"indexof(['k','ks','gf'],datum.s)<0"}],"mark":{"type":"point","filled":false,"fill":"white","opacity":1,"strokeWidth":1.5,"size":28},"encoding":{"shape":{"field":"s","type":"nominal","scale":{"domain":["k","ks","r","r2","bt","bs","g","gf","p","pt"],"range":["circle","square","circle","circle","triangle-up","square","square","square","circle","triangle-down"]},"legend":null}}},
{"transform":[{"filter":"indexof(['k','ks','gf'],datum.s)>=0"}],"mark":{"type":"point","filled":true,"opacity":1,"size":34},"encoding":{"shape":{"field":"s","type":"nominal","scale":{"domain":["k","ks","r","r2","bt","bs","g","gf","p","pt"],"range":["circle","square","circle","circle","triangle-up","square","square","square","circle","triangle-down"]},"legend":null}}}
]},
{"data":{"values":[{"L":"C"}]},"mark":{"type":"text","font":"Liberation Sans","fontSize":19,"fontWeight":"bold","baseline":"alphabetic","align":"center","color":"black"},"encoding":{"x":{"datum":-18.5,"type":"quantitative","scale":{"domain":[-11,31.8],"nice":false,"zero":false},"axis":{"values":[-10,0,10,20,30],"title":"Time (min)"}},"y":{"datum":119.2,"type":"quantitative","scale":{"domain":[0,120]},"axis":{"values":[0,20,40,60,80,100,120],"title":"% Control"}},"text":{"field":"L","type":"nominal"}}}
]}
]},
{"spacing":45,"bounds":"flush","hconcat":[
{"width":212,"height":144,"title":"Nav1.4","data":{"name":"D"},
"layer":[
{"encoding":{"x":{"field":"t","type":"quantitative","scale":{"domain":[-10.5,31.4],"nice":false,"zero":false},"axis":{"values":[-10,0,10,20,30],"title":"Time (min)"}},"y":{"field":"y","type":"quantitative","scale":{"domain":[0,120]},"axis":{"values":[0,20,40,60,80,100,120],"title":"% Control"}},"color":{"field":"s","type":"nominal","scale":{"domain":["k","ks","r","r2","bt","bs","g","gf","p","pt"],"range":["#000000","#000000","#ff0000","#ff0000","#0000cc","#0000cc","#0a800a","#0a800a","#7b1fa2","#7b1fa2"]},"legend":null}},
"layer":[
{"mark":{"type":"line","strokeWidth":1}},
{"transform":[{"filter":"isValid(datum.e)"}],"mark":{"type":"errorbar","ticks":true,"thickness":1.2},"encoding":{"yError":{"field":"e"}}},
{"transform":[{"filter":"indexof(['k','ks','gf'],datum.s)<0"}],"mark":{"type":"point","filled":false,"fill":"white","opacity":1,"strokeWidth":1.5,"size":28},"encoding":{"shape":{"field":"s","type":"nominal","scale":{"domain":["k","ks","r","r2","bt","bs","g","gf","p","pt"],"range":["circle","square","circle","circle","triangle-up","square","square","square","circle","triangle-down"]},"legend":null}}},
{"transform":[{"filter":"indexof(['k','ks','gf'],datum.s)>=0"}],"mark":{"type":"point","filled":true,"opacity":1,"size":34},"encoding":{"shape":{"field":"s","type":"nominal","scale":{"domain":["k","ks","r","r2","bt","bs","g","gf","p","pt"],"range":["circle","square","circle","circle","triangle-up","square","square","square","circle","triangle-down"]},"legend":null}}}
]},
{"data":{"values":[{"L":"D"}]},"mark":{"type":"text","font":"Liberation Sans","fontSize":19,"fontWeight":"bold","baseline":"alphabetic","align":"center","color":"black"},"encoding":{"x":{"datum":-18.7,"type":"quantitative","scale":{"domain":[-10.5,31.4],"nice":false,"zero":false},"axis":{"values":[-10,0,10,20,30],"title":"Time (min)"}},"y":{"datum":121.7,"type":"quantitative","scale":{"domain":[0,120]},"axis":{"values":[0,20,40,60,80,100,120],"title":"% Control"}},"text":{"field":"L","type":"nominal"}}}
]},
{"width":219,"height":144,"title":"Nav1.5","data":{"name":"E"},
"layer":[
{"encoding":{"x":{"field":"t","type":"quantitative","scale":{"domain":[-11.1,32.2],"nice":false,"zero":false},"axis":{"values":[-10,0,10,20,30],"title":"Time (min)"}},"y":{"field":"y","type":"quantitative","scale":{"domain":[0,120]},"axis":{"values":[0,20,40,60,80,100,120],"title":"% Control"}},"color":{"field":"s","type":"nominal","scale":{"domain":["k","ks","r","r2","bt","bs","g","gf","p","pt"],"range":["#000000","#000000","#ff0000","#ff0000","#0000cc","#0000cc","#0a800a","#0a800a","#7b1fa2","#7b1fa2"]},"legend":null}},
"layer":[
{"mark":{"type":"line","strokeWidth":1}},
{"transform":[{"filter":"isValid(datum.e)"}],"mark":{"type":"errorbar","ticks":true,"thickness":1.2},"encoding":{"yError":{"field":"e"}}},
{"transform":[{"filter":"indexof(['k','ks','gf'],datum.s)<0"}],"mark":{"type":"point","filled":false,"fill":"white","opacity":1,"strokeWidth":1.5,"size":28},"encoding":{"shape":{"field":"s","type":"nominal","scale":{"domain":["k","ks","r","r2","bt","bs","g","gf","p","pt"],"range":["circle","square","circle","circle","triangle-up","square","square","square","circle","triangle-down"]},"legend":null}}},
{"transform":[{"filter":"indexof(['k','ks','gf'],datum.s)>=0"}],"mark":{"type":"point","filled":true,"opacity":1,"size":34},"encoding":{"shape":{"field":"s","type":"nominal","scale":{"domain":["k","ks","r","r2","bt","bs","g","gf","p","pt"],"range":["circle","square","circle","circle","triangle-up","square","square","square","circle","triangle-down"]},"legend":null}}}
]},
{"data":{"values":[{"L":"E"}]},"mark":{"type":"text","font":"Liberation Sans","fontSize":19,"fontWeight":"bold","baseline":"alphabetic","align":"center","color":"black"},"encoding":{"x":{"datum":-17.9,"type":"quantitative","scale":{"domain":[-11.1,32.2],"nice":false,"zero":false},"axis":{"values":[-10,0,10,20,30],"title":"Time (min)"}},"y":{"datum":119.2,"type":"quantitative","scale":{"domain":[0,120]},"axis":{"values":[0,20,40,60,80,100,120],"title":"% Control"}},"text":{"field":"L","type":"nominal"}}}
]},
{"width":215,"height":144,"title":"Nav1.6","data":{"name":"F"},
"layer":[
{"encoding":{"x":{"field":"t","type":"quantitative","scale":{"domain":[-10.65,32],"nice":false,"zero":false},"axis":{"values":[-10,0,10,20,30],"title":"Time (min)"}},"y":{"field":"y","type":"quantitative","scale":{"domain":[0,120]},"axis":{"values":[0,20,40,60,80,100,120],"title":"% Control"}},"color":{"field":"s","type":"nominal","scale":{"domain":["k","ks","r","r2","bt","bs","g","gf","p","pt"],"range":["#000000","#000000","#ff0000","#ff0000","#0000cc","#0000cc","#0a800a","#0a800a","#7b1fa2","#7b1fa2"]},"legend":null}},
"layer":[
{"mark":{"type":"line","strokeWidth":1}},
{"transform":[{"filter":"isValid(datum.e)"}],"mark":{"type":"errorbar","ticks":true,"thickness":1.2},"encoding":{"yError":{"field":"e"}}},
{"transform":[{"filter":"indexof(['k','ks','gf'],datum.s)<0"}],"mark":{"type":"point","filled":false,"fill":"white","opacity":1,"strokeWidth":1.5,"size":28},"encoding":{"shape":{"field":"s","type":"nominal","scale":{"domain":["k","ks","r","r2","bt","bs","g","gf","p","pt"],"range":["circle","square","circle","circle","triangle-up","square","square","square","circle","triangle-down"]},"legend":null}}},
{"transform":[{"filter":"indexof(['k','ks','gf'],datum.s)>=0"}],"mark":{"type":"point","filled":true,"opacity":1,"size":34},"encoding":{"shape":{"field":"s","type":"nominal","scale":{"domain":["k","ks","r","r2","bt","bs","g","gf","p","pt"],"range":["circle","square","circle","circle","triangle-up","square","square","square","circle","triangle-down"]},"legend":null}}}
]},
{"data":{"values":[{"L":"F"}]},"mark":{"type":"text","font":"Liberation Sans","fontSize":19,"fontWeight":"bold","baseline":"alphabetic","align":"center","color":"black"},"encoding":{"x":{"datum":-18.1,"type":"quantitative","scale":{"domain":[-10.65,32],"nice":false,"zero":false},"axis":{"values":[-10,0,10,20,30],"title":"Time (min)"}},"y":{"datum":119.2,"type":"quantitative","scale":{"domain":[0,120]},"axis":{"values":[0,20,40,60,80,100,120],"title":"% Control"}},"text":{"field":"L","type":"nominal"}}}
]}
]}
]
}
